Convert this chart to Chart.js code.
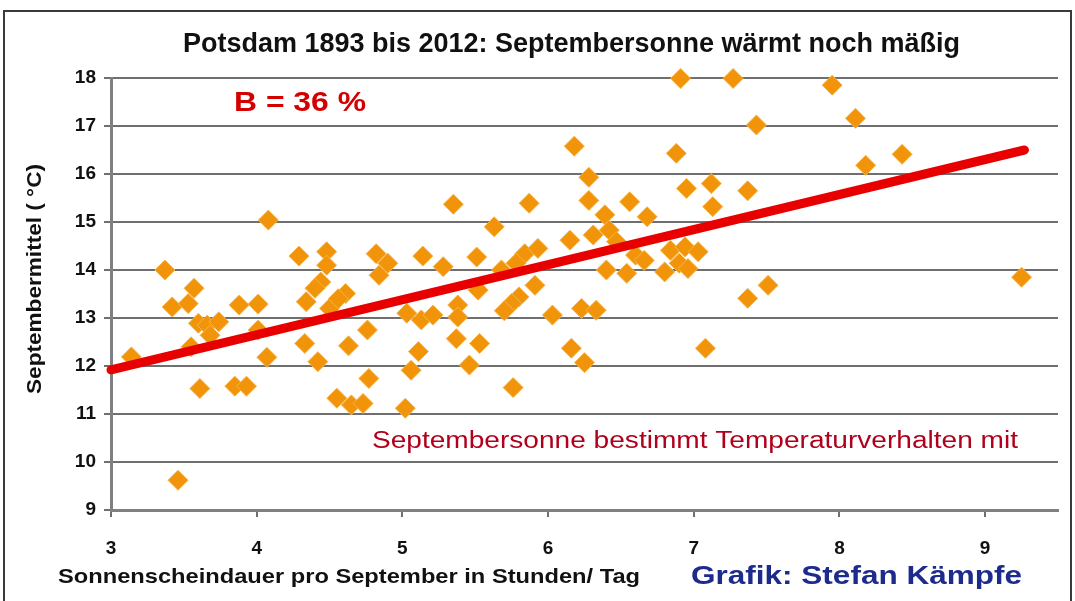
<!DOCTYPE html>
<html>
<head>
<meta charset="utf-8">
<script src="https://cdn.jsdelivr.net/npm/chart.js@4.4.0/dist/chart.umd.min.js"></script>
<style>
  html, body { margin: 0; padding: 0; background: #fff; }
  #wrap { width: 1075px; height: 601px; }
</style>
</head>
<body>
<div id="wrap"><canvas id="chart" width="1075" height="601"></canvas></div>
<script>
// Sonnenscheindauer (h/Tag) und Septembermittel (°C), Potsdam 1893-2012
const sunHours = [
  3.14, 3.37, 3.46, 3.42, 3.53, 3.57, 3.60, 3.66, 3.74, 3.55,
  3.68, 3.61, 3.85, 3.93, 3.88, 4.01, 4.01, 4.07, 4.08, 4.29,
  4.48, 4.48, 4.44, 4.34, 4.50, 4.61, 4.82, 4.90, 4.84, 5.14,
  5.28, 5.51, 5.03, 5.13, 5.21, 5.38, 5.38, 4.76, 4.33, 4.63,
  5.37, 4.42, 4.77, 4.55, 4.65, 4.73, 5.02, 5.06, 5.11, 5.53,
  5.46, 5.76, 4.40, 4.56, 5.35, 5.87, 5.63, 5.84, 5.93, 5.78,
  5.68, 5.52, 5.91, 5.80, 5.75, 5.70, 6.03, 6.23, 6.33, 6.16,
  6.25, 7.08, 6.18, 6.28, 6.28, 6.56, 6.39, 6.68, 6.15, 6.31,
  6.42, 6.47, 6.40, 6.54, 6.60, 6.66, 6.80, 6.84, 6.94, 7.03,
  6.90, 6.96, 6.91, 7.27, 7.95, 7.43, 8.11, 8.18, 8.43, 6.88,
  6.95, 7.12, 7.13, 7.37, 7.51, 7.37, 9.25
];
const tempMean = [
  12.19, 14.00, 9.62, 13.23, 13.30, 13.62, 12.89, 12.85, 12.92, 12.40,
  12.64, 11.53, 11.58, 11.58, 13.27, 13.29, 12.75, 12.18, 15.04, 14.29,
  14.38, 14.10, 13.75, 13.34, 13.20, 13.51, 14.34, 14.14, 13.89, 14.29,
  14.07, 14.27, 13.10, 12.96, 13.06, 13.27, 13.02, 12.75, 12.47, 12.42,
  12.57, 12.09, 11.74, 11.33, 11.19, 11.22, 11.12, 11.91, 12.30, 12.47,
  12.02, 11.55, 13.62, 13.40, 15.37, 15.39, 14.90, 14.34, 14.45, 14.14,
  14.00, 13.58, 13.68, 13.44, 13.30, 13.15, 13.06, 13.20, 13.16, 12.37,
  12.07, 12.37, 16.58, 15.93, 15.45, 15.42, 15.15, 15.11, 14.62, 14.73,
  14.83, 14.59, 14.00, 13.93, 14.31, 14.20, 13.96, 14.41, 14.48, 14.38,
  14.14, 14.03, 17.99, 17.99, 17.85, 17.02, 17.16, 16.18, 16.41, 16.43,
  15.70, 15.80, 15.32, 15.65, 13.68, 13.41, 13.85
];
// Trendlinie (Endpunkte)
const trendX = [3, 9.27];
const trendY = [11.92, 16.5];

const xTicks = [3, 4, 5, 6, 7, 8, 9];
const yTicks = [9, 10, 11, 12, 13, 14, 15, 16, 17, 18];

const points = sunHours.map((x, i) => ({ x: x, y: tempMean[i] }));
const trend = trendX.map((x, i) => ({ x: x, y: trendY[i] }));

const tickFont = { family: "'Liberation Sans Narrow', 'Liberation Sans', Arial, sans-serif", size: 19, weight: 'bold' };

// text squeezed/stretched to the width it has in the original
function fitText(ctx, text, left, base, width, font, color, rot) {
  ctx.save();
  ctx.font = font;
  ctx.fillStyle = color;
  ctx.textAlign = 'left';
  ctx.textBaseline = 'alphabetic';
  const w = ctx.measureText(text).width;
  ctx.translate(left, base);
  if (rot) ctx.rotate(-Math.PI / 2);
  ctx.scale(width / w, 1);
  ctx.fillText(text, 0, 0);
  ctx.restore();
}

const textPlugin = {
  id: 'texts',
  beforeDraw(chart) {
    const ctx = chart.ctx;
    ctx.save();
    ctx.fillStyle = '#fff';
    ctx.fillRect(0, 0, chart.width, chart.height);
    ctx.strokeStyle = '#3a3a3a';
    ctx.lineWidth = 2;
    ctx.strokeRect(4, 11, 1067, 600);
    ctx.restore();
  },
  afterDraw(chart) {
    const ctx = chart.ctx;
    fitText(ctx, 'Potsdam 1893 bis 2012: Septembersonne wärmt noch mäßig', 183, 52, 777,
      "bold 27px 'Liberation Sans Narrow', 'Liberation Sans', sans-serif", '#111');
    fitText(ctx, 'B = 36 %', 234, 111, 132, "bold 27px 'Liberation Sans', Arial, sans-serif", '#d40000');
    fitText(ctx, 'Septembersonne bestimmt Temperaturverhalten mit', 372, 448, 646,
      "23px 'Liberation Sans', Arial, sans-serif", '#b0001c');
    fitText(ctx, 'Sonnenscheindauer pro September in Stunden/ Tag', 58, 583, 582,
      "bold 21px 'Liberation Sans Narrow', 'Liberation Sans', sans-serif", '#111');
    fitText(ctx, 'Grafik: Stefan Kämpfe', 691, 584, 331,
      "bold 25px 'Liberation Sans', Arial, sans-serif", '#1c2b8c');
    fitText(ctx, 'Septembermittel ( °C)', 41, 394, 230,
      "bold 21px 'Liberation Sans Narrow', 'Liberation Sans', sans-serif", '#111', true);
  }
};

new Chart(document.getElementById('chart'), {
  type: 'scatter',
  data: {
    datasets: [{
      type: 'line',
      data: trend,
      borderColor: '#e80000',
      borderWidth: 9,
      borderCapStyle: 'round',
      pointRadius: 0,
      fill: false,
      clip: false
    }, {
      data: points,
      pointStyle: 'rectRot',
      pointRadius: 10,
      backgroundColor: '#f29409',
      borderColor: '#f5b54a',
      borderWidth: 1,
      clip: false
    }]
  },
  options: {
    responsive: false,
    devicePixelRatio: 1,
    animation: false,
    layout: { padding: { left: 0, right: 17, top: 78, bottom: 0 } },
    plugins: { legend: { display: false }, tooltip: { enabled: false } },
    scales: {
      x: {
        type: 'linear',
        min: 3,
        max: 9.5,
        afterBuildTicks: s => { s.ticks = xTicks.map(v => ({ value: v })); },
        afterFit: s => { s.height = 91; },
        grid: { drawOnChartArea: false, drawTicks: true, tickLength: 7, color: '#707070', lineWidth: 2 },
        border: { display: true, color: '#808080', width: 3 },
        ticks: { font: tickFont, color: '#111', padding: 20 }
      },
      y: {
        min: 9,
        max: 18,
        afterBuildTicks: s => { s.ticks = yTicks.map(v => ({ value: v })); },
        afterFit: s => { s.width = 111; },
        grid: { color: '#6f6f6f', lineWidth: 2, tickLength: 7 },
        border: { display: true, color: '#808080', width: 3 },
        ticks: { font: tickFont, color: '#111', padding: 8 }
      }
    }
  },
  plugins: [textPlugin]
});
</script>
</body>
</html>
